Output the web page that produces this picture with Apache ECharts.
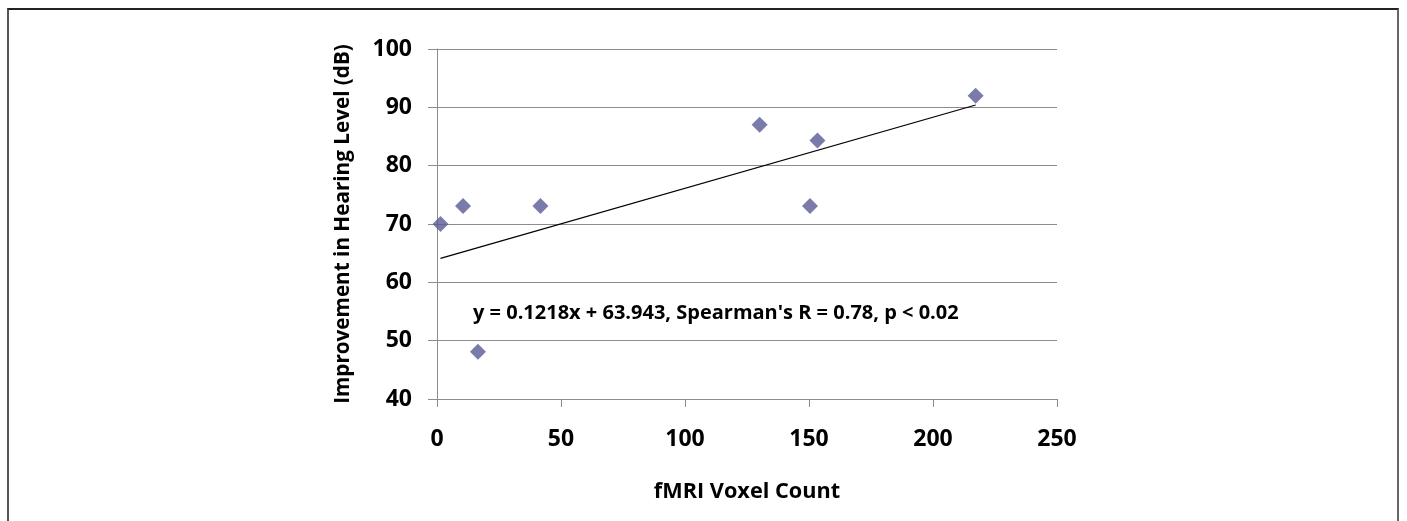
<!DOCTYPE html>
<html>
<head>
<meta charset="utf-8">
<script src="https://cdn.jsdelivr.net/npm/echarts@6/dist/echarts.min.js"></script>
<style>
html,body{margin:0;padding:0;background:#fff;}
#frame{position:absolute;left:7px;top:8px;width:1392px;height:520px;border-top:2px solid #222;border-left:2px solid #555;border-right:2px solid #666;box-sizing:border-box;}
#chart{position:absolute;left:0;top:0;width:1407px;height:521px;}
</style>
</head>
<body>
<div id="frame"></div>
<div id="chart"></div>
<script>
// Data
const voxelCount = [1.4, 10.5, 16.5, 41.7, 130.1, 150.4, 153.4, 217.2];
const hearingImprovement = [70.0, 73.1, 48.1, 73.1, 87.0, 73.1, 84.3, 92.0];
const trendX = [1.4, 217.2];
const trendY = [64.1, 90.4];
const xTicks = [0, 50, 100, 150, 200, 250];
const yTicks = [40, 50, 60, 70, 80, 90, 100];
const annotation = "y = 0.1218x + 63.943, Spearman's R = 0.78, p < 0.02";
const xName = "fMRI Voxel Count";
const yName = "Improvement in Hearing Level (dB)";

const FONT = 'Open Sans';
const chart = echarts.init(document.getElementById('chart'));
const pts = voxelCount.map((x, i) => [x, hearingImprovement[i]]);
const trend = trendX.map((x, i) => [x, trendY[i]]);

chart.setOption({
  animation: false,
  backgroundColor: 'transparent',
  grid: {left: 437, right: 350, top: 49, bottom: 122, containLabel: false},
  xAxis: {
    type: 'value', min: xTicks[0], max: xTicks[xTicks.length-1], interval: 50,
    name: xName, nameLocation: 'middle', nameGap: 82,
    nameTextStyle: {fontFamily: FONT, fontWeight: 'bold', fontSize: 21.7, color: '#000', verticalAlign: 'top'},
    axisLine: {show: true, lineStyle: {color: '#8c8c8c', width: 1}},
    axisTick: {show: true, length: 8, lineStyle: {color: '#8c8c8c'}},
    axisLabel: {fontFamily: FONT, fontWeight: 'bold', fontSize: 23, color: '#000', margin: 29},
    splitLine: {show: false}
  },
  yAxis: {
    type: 'value', min: yTicks[0], max: yTicks[yTicks.length-1], interval: 10,
    name: yName, nameLocation: 'middle', nameGap: 83, nameRotate: 90,
    nameTextStyle: {fontFamily: FONT, fontWeight: 'bold', fontSize: 20.7, color: '#000'},
    axisLine: {show: true, lineStyle: {color: '#8c8c8c', width: 1}},
    axisTick: {show: true, length: 9, lineStyle: {color: '#8c8c8c'}},
    axisLabel: {fontFamily: FONT, fontWeight: 'bold', fontSize: 23, color: '#000', margin: 25},
    splitLine: {show: true, lineStyle: {color: '#8c8c8c', width: 1}}
  },
  series: [
    {
      type: 'line', data: trend, symbol: 'none', silent: true,
      lineStyle: {color: '#000', width: 1.3}, z: 2
    },
    {
      type: 'scatter', data: pts, symbol: 'diamond', symbolSize: [16, 16],
      itemStyle: {color: '#5a5a96'}, z: 3
    }
  ],
  graphic: [{
    type: 'text', left: 473, top: 303,
    style: {text: annotation, fontFamily: FONT, fontWeight: 'bold', fontSize: 20, fill: '#000'}
  }]
});
</script>
</body>
</html>
